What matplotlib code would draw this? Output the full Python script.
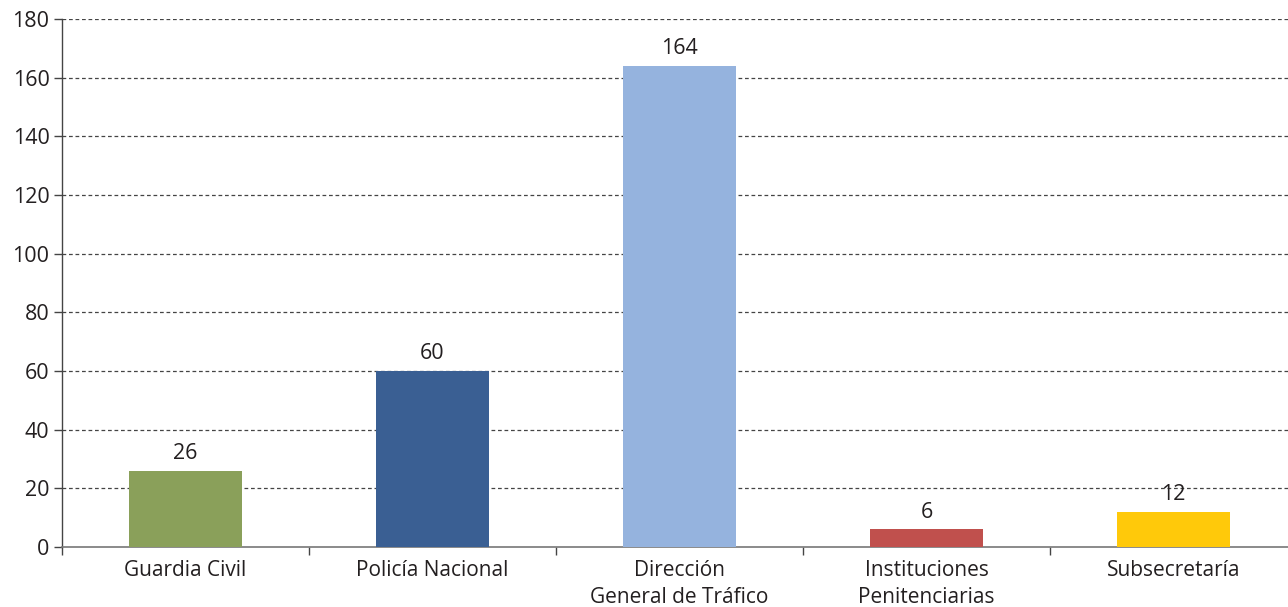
import numpy as np
import matplotlib.pyplot as plt

categories = ["Guardia Civil", "Policía Nacional", "Dirección\nGeneral de Tráfico",
              "Instituciones\nPenitenciarias", "Subsecretaría"]
values = [26, 60, 164, 6, 12]
colors = ["#8AA05A", "#3A5F93", "#95B3DE", "#C0504D", "#FFC90A"]
yticks = [0, 20, 40, 60, 80, 100, 120, 140, 160, 180]

plt.rcParams['font.family'] = ['Open Sans', 'DejaVu Sans']
text_color = "#231F20"

fig = plt.figure(figsize=(12.88, 6.07), dpi=100)
ax = fig.add_axes([62 / 1288, 1 - 547 / 607, 1235 / 1288, 528 / 607])

x = np.arange(len(categories))
bars = ax.bar(x, values, width=0.46, color=colors, zorder=3)

for xi, v in zip(x, values):
    ax.text(xi, v + 2.3, str(v), ha="center", va="bottom", fontsize=15.5, color=text_color)

# dashed grid
for y in yticks[1:]:
    ax.axhline(y, color="#444444", linestyle=(0, (3, 2.2)), linewidth=0.9, zorder=1)

ax.set_xlim(-0.5, 4.5)
ax.set_ylim(0, 180)
ax.set_yticks(yticks)
ax.set_yticklabels([str(t) for t in yticks], fontsize=15.5, color=text_color)
ax.set_xticks(x)
ax.set_xticklabels(categories, fontsize=15, color=text_color, linespacing=1.4)
ax.set_xticks(np.arange(-0.5, 4.6, 1), minor=True)
ax.tick_params(axis="x", which="major", length=0, pad=9)
ax.tick_params(axis="x", which="minor", length=6, width=1, color="#444444", direction="out")
ax.tick_params(axis="y", length=6, width=1, color="#444444", direction="out", pad=3)

for s in ["top", "right"]:
    ax.spines[s].set_visible(False)
ax.spines["left"].set_color("#444444")
ax.spines["bottom"].set_color("#777777")
ax.spines["left"].set_linewidth(1)
ax.spines["bottom"].set_linewidth(1.2)

fig.savefig("out.png", dpi=100)
